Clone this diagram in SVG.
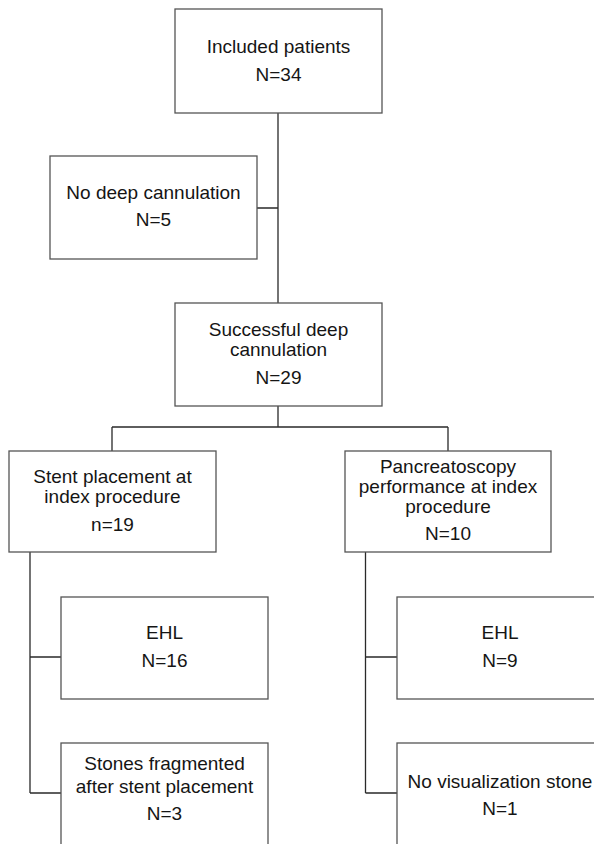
<svg xmlns="http://www.w3.org/2000/svg" width="594" height="844" viewBox="0 0 594 844">
<style>
.box{fill:#fff;stroke:#555;stroke-width:1.3}
.ln{fill:none;stroke:#2a2a2a;stroke-width:1.3}
text{font-family:"Liberation Sans",Arial,sans-serif;font-size:19px;fill:#151515;text-anchor:middle}
</style>
<rect width="594" height="844" fill="#fff"/>
<g id="connectors">
<path class="ln" d="M278,113 V303 M257,208 H278 M278,406 V427 M112,427 H448 M112,427 V451 M448,427 V451"/>
<path class="ln" d="M30,552 V793 M30,657 H61 M30,793 H61"/>
<path class="ln" d="M365.5,552 V793 M365.5,657 H397 M365.5,793 H397"/>
</g>
<g id="n-included">
<rect class="box" x="175" y="9" width="207" height="104"/>
<text x="278.5" y="53">Included patients</text>
<text x="278.5" y="81">N=34</text>
</g>
<g id="n-nodeep">
<rect class="box" x="50" y="156" width="207" height="103"/>
<text x="153.5" y="199">No deep cannulation</text>
<text x="153.5" y="226">N=5</text>
</g>
<g id="n-success">
<rect class="box" x="175" y="303" width="207" height="103"/>
<text x="278.5" y="336">Successful deep</text>
<text x="278.5" y="356">cannulation</text>
<text x="278.5" y="384">N=29</text>
</g>
<g id="n-stent">
<rect class="box" x="9" y="451" width="207" height="101"/>
<text x="112.5" y="483">Stent placement at</text>
<text x="112.5" y="503">index procedure</text>
<text x="112.5" y="531">n=19</text>
</g>
<g id="n-pancreatoscopy">
<rect class="box" x="345" y="451" width="206" height="101"/>
<text x="448" y="473">Pancreatoscopy</text>
<text x="448" y="493">performance at index</text>
<text x="448" y="513">procedure</text>
<text x="448" y="540">N=10</text>
</g>
<g id="n-ehl-left">
<rect class="box" x="61" y="597" width="207" height="102"/>
<text x="164.5" y="639">EHL</text>
<text x="164.5" y="667">N=16</text>
</g>
<g id="n-ehl-right">
<rect class="box" x="397" y="597" width="207" height="102"/>
<text x="500" y="639">EHL</text>
<text x="500" y="667">N=9</text>
</g>
<g id="n-stones">
<rect class="box" x="61" y="743" width="207" height="110"/>
<text x="164.5" y="770">Stones fragmented</text>
<text x="164.5" y="793">after stent placement</text>
<text x="164.5" y="820">N=3</text>
</g>
<g id="n-novis">
<rect class="box" x="397" y="743" width="207" height="110"/>
<text x="500" y="788">No visualization stone</text>
<text x="500" y="815">N=1</text>
</g>
</svg>
